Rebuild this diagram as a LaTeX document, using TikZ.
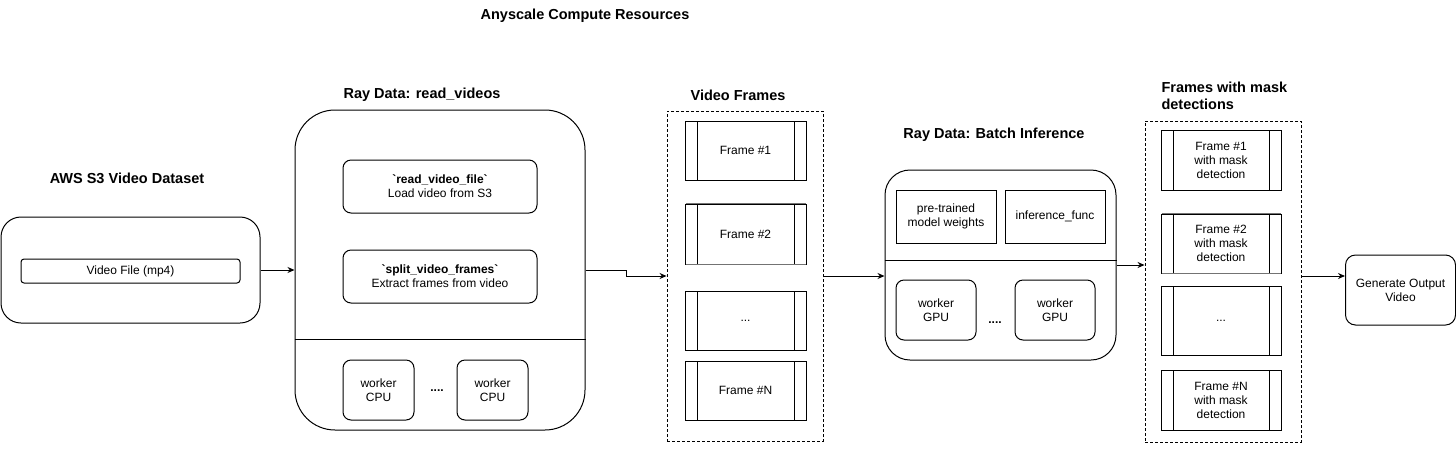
\documentclass[tikz,border=0pt]{standalone}
\usepackage{fontspec}
\setmainfont{Liberation Sans}
\usetikzlibrary{arrows.meta}
\begin{document}
\begin{tikzpicture}[x=1pt,y=-1pt,
  font=\fontsize{12}{14}\selectfont,
  line width=1pt,
  box/.style={draw, rounded corners=#1, inner sep=0pt, align=center},
  sq/.style={draw, rounded corners=0pt, inner sep=0pt, align=center},
  title/.style={font=\fontsize{14.5}{17}\selectfont\bfseries, inner sep=0pt},
  grp/.style={draw, dash pattern=on 3pt off 2pt, line width=0.9pt, inner sep=0pt},
  framebox/.style={draw, inner sep=0pt, align=center, minimum width=#1,
    path picture={
      \draw[line width=1pt] ([xshift=12pt]path picture bounding box.north west) -- ([xshift=12pt]path picture bounding box.south west);
      \draw[line width=1pt] ([xshift=-12pt]path picture bounding box.north east) -- ([xshift=-12pt]path picture bounding box.south east);
    }},
  grayedge/.style={draw=black!55, line width=1.2pt},
  arr/.style={-{Stealth[length=7pt,width=6pt]}, line width=1pt},
  dots/.style={font=\fontsize{12}{14}\selectfont\bfseries, inner sep=0pt}
]
\useasboundingbox (0,0) rectangle (1456,451);

% Title
\node[title] (top) at (585,16) {Anyscale Compute Resources};

% AWS S3
\node[title] (awst) at (127,178) {AWS S3 Video Dataset};
\node[box=20pt, minimum width=259pt, minimum height=106pt] (aws) at (130.5,270) {};
\node[box=3pt, minimum width=219pt, minimum height=24pt] (vfile) at (130.5,271) {Video File (mp4)};

% Ray Data read_videos
\node[title] (rvt) at (422,95) {Ray Data: read\_videos};
\node[box=40pt, minimum width=290pt, minimum height=320pt] (rv) at (440,270) {};
\draw (rv.west |- 0,339) coordinate (rvl) -- (rv.east |- 0,339) coordinate (rvr);
\node[box=8pt, minimum width=194pt, minimum height=53pt] (rvf) at (440,186.5)
  {{\bfseries \textasciigrave read\_video\_file\textasciigrave}\\Load video from S3};
\node[box=8pt, minimum width=194pt, minimum height=53pt] (svf) at (440,276.5)
  {{\bfseries \textasciigrave split\_video\_frames\textasciigrave}\\Extract frames from video};
\node[box=8pt, minimum width=71pt, minimum height=60pt] (cpu1) at (378.5,390) {worker\\CPU};
\node[box=8pt, minimum width=71pt, minimum height=60pt] (cpu2) at (492.5,390) {worker\\CPU};
\node[dots] (cdots) at (437,391) {....};

% Video Frames
\node[title] (vft) at (738,95) {Video Frames};
\node[grp, minimum width=156pt, minimum height=330pt] (vf) at (745,276) {};
\node[framebox=121pt, minimum height=59pt] (f1) at (745.5,150.5) {Frame \#1};
\node[framebox=121pt, minimum height=60pt] (f2) at (745.5,234) {Frame \#2};
\node[framebox=121pt, minimum height=59pt] (f3) at (745.5,320.5) {...};
\node[framebox=121pt, minimum height=59pt] (f4) at (745.5,390.5) {Frame \#N};
\draw[grayedge] ([xshift=1pt]f2.north west) -- ([xshift=-1pt]f2.north east);
\draw[grayedge] ([xshift=1pt]f2.south west) -- ([xshift=-1pt]f2.south east);

% Batch inference
\node[title] (bit) at (994,135) {Ray Data: Batch Inference};
\node[box=25pt, minimum width=231pt, minimum height=190pt] (bi) at (1000.5,265) {};
\draw (bi.west |- 0,260) -- (bi.east |- 0,260);
\node[sq, minimum width=100pt, minimum height=53pt] (pw) at (946,216.5) {pre-trained\\model weights};
\node[sq, minimum width=100pt, minimum height=53pt] (inf) at (1055,216.5) {inference\_func};
\node[box=8pt, minimum width=80pt, minimum height=60pt] (gpu1) at (936,310) {worker\\GPU};
\node[box=8pt, minimum width=80pt, minimum height=60pt] (gpu2) at (1055,310) {worker\\GPU};
\node[dots] (gdots) at (995,323) {....};

% Frames with mask detections
\node[title, anchor=west, align=left] (mbt) at (1161,95.5) {Frames with mask\\detections};
\node[grp, minimum width=156pt, minimum height=321pt] (mb) at (1223,281.5) {};
\node[framebox=120pt, minimum height=60pt] (m1) at (1221,160) {Frame \#1\\with mask\\detection};
\node[framebox=120pt, minimum height=59pt] (m2) at (1221,243.5) {Frame \#2\\with mask\\detection};
\node[framebox=120pt, minimum height=69pt] (m3) at (1221,320.5) {...};
\node[framebox=120pt, minimum height=60pt] (m4) at (1221,400) {Frame \#N\\with mask\\detection};
\draw[grayedge] ([xshift=1pt]m2.north west) -- ([xshift=-1pt]m2.north east);
\draw[grayedge] ([xshift=1pt]m2.south west) -- ([xshift=-1pt]m2.south east);

% Generate output
\node[box=10pt, minimum width=110pt, minimum height=70pt] (gen) at (1400.5,290) {Generate Output\\Video};

% Connectors
\draw[arr] (aws.east) -- (rv.west |- aws.east);
\draw[arr] (rv.east) -- ++(41,0) |- (vf.west);
\draw[arr] (vf.east) -- (bi.west |- vf.east);
\draw[arr] (bi.east) -- (mb.west |- bi.east);
\coordinate (mbo) at (mb.east |- 0,276);
\draw[arr] (mbo) -- (gen.west |- mbo);
\end{tikzpicture}
\end{document}
